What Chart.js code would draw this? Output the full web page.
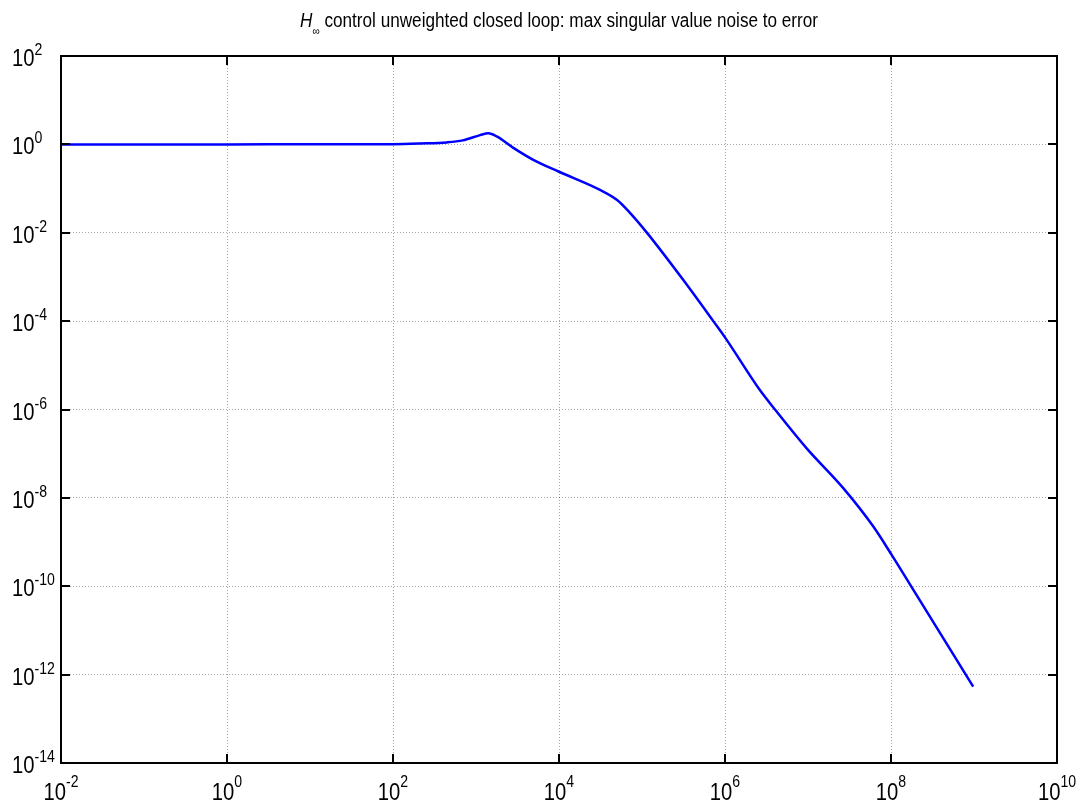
<!DOCTYPE html>
<html>
<head>
<meta charset="utf-8">
<title>H-infinity closed loop</title>
<script src="https://cdn.jsdelivr.net/npm/chart.js@4"></script>
<style>
  html, body { margin: 0; padding: 0; background: #fff; }
  canvas { display: block; }
</style>
</head>
<body>
<canvas id="chart" width="1086" height="808"></canvas>
<script>
// Frequency points
const frequency = [
    0.01, 1, 100, 214, 447, 692, 1122, 1413, 1778, 2818, 4898,
    1e4, 31189, 50119, 71614, 113763, 314775, 722770, 1018591,
    2630268, 3999447, 9638290, 26607250, 61235039, 101859139,
    177418948, 977237221
];

// Max singular value, noise -> error
const maxSingularValue = [
    1, 1, 1.012, 1.047, 1.109, 1.23, 1.62, 1.78, 1.51, 0.832, 0.447,
    0.24, 0.0933, 0.055, 0.0282, 0.0102, 8.5e-4, 1e-4, 4.07e-5,
    2.75e-6, 1e-6, 1.32e-7, 1.66e-8, 2.24e-9, 5.13e-10,
    9.55e-11, 5.37e-13
];

// Tick positions and their exponents
const xTickValues = [1e-2, 1e0, 1e2, 1e4, 1e6, 1e8, 1e10];
const xTickExponents = ['-2', '0', '2', '4', '6', '8', '10'];
const yTickValues = [1e2, 1e0, 1e-2, 1e-4, 1e-6, 1e-8, 1e-10, 1e-12, 1e-14];
const yTickExponents = ['2', '0', '-2', '-4', '-6', '-8', '-10', '-12', '-14'];

const titleMain = ' control unweighted closed loop: max singular value noise to error';

const FONT = '"Liberation Sans", Arial, sans-serif';
const SQUEEZE = 0.88;

// Draws "10" with a superscript exponent
function drawPower(ctx, exp, x, baseY, expY, align) {
    ctx.save();
    ctx.font = '23px ' + FONT;
    const wb = ctx.measureText('10').width * SQUEEZE;
    ctx.font = '16px ' + FONT;
    const we = ctx.measureText(exp).width * SQUEEZE;
    let start = x;
    if (align === 'center') start = x - (wb + we) / 2;
    ctx.fillStyle = '#000';
    ctx.textAlign = 'left';
    ctx.textBaseline = 'alphabetic';

    ctx.save();
    ctx.translate(start, baseY);
    ctx.scale(SQUEEZE, 1);
    ctx.font = '23px ' + FONT;
    ctx.fillText('10', 0, 0);
    ctx.restore();

    ctx.save();
    ctx.translate(start + wb, expY);
    ctx.scale(SQUEEZE, 1);
    ctx.font = '16px ' + FONT;
    ctx.fillText(exp, 0, 0);
    ctx.restore();
    ctx.restore();
}

const framePlugin = {
    id: 'frame',
    afterDraw(chart) {
        const ctx = chart.ctx;
        const area = chart.chartArea;
        const xs = chart.scales.x;
        const ys = chart.scales.y;

        ctx.save();
        // box
        ctx.strokeStyle = '#000';
        ctx.lineWidth = 2;
        ctx.strokeRect(area.left, area.top, area.right - area.left, area.bottom - area.top);

        // inward tick marks on all four sides
        const tickLen = 9;
        ctx.beginPath();
        xTickValues.forEach(v => {
            const px = Math.round(xs.getPixelForValue(v));
            ctx.moveTo(px, area.bottom);
            ctx.lineTo(px, area.bottom - tickLen);
            ctx.moveTo(px, area.top);
            ctx.lineTo(px, area.top + tickLen);
        });
        yTickValues.forEach(v => {
            const py = Math.round(ys.getPixelForValue(v));
            ctx.moveTo(area.left, py);
            ctx.lineTo(area.left + tickLen, py);
            ctx.moveTo(area.right, py);
            ctx.lineTo(area.right - tickLen, py);
        });
        ctx.stroke();

        // tick labels
        xTickValues.forEach((v, i) => {
            const px = xs.getPixelForValue(v);
            drawPower(ctx, xTickExponents[i], px, area.bottom + 37, area.bottom + 24, 'center');
        });
        yTickValues.forEach((v, i) => {
            const py = ys.getPixelForValue(v);
            drawPower(ctx, yTickExponents[i], 12, py + 10, py - 1, 'left');
        });

        // title: italic H, subscript infinity, then the rest
        const hFont = 'italic 20px ' + FONT;
        const subFont = '12px ' + FONT;
        const mainFont = '20px ' + FONT;
        ctx.font = hFont;
        const wH = ctx.measureText('H').width;
        ctx.font = subFont;
        const wInf = ctx.measureText('\u221E').width;
        ctx.font = mainFont;
        const wMain = ctx.measureText(titleMain).width;
        const targetWidth = 518;
        const sx = targetWidth / (wH + wInf + wMain);
        const cx = (area.left + area.right) / 2;
        ctx.translate(cx - targetWidth / 2, 27);
        ctx.scale(sx, 1);
        ctx.fillStyle = '#000';
        ctx.textAlign = 'left';
        ctx.textBaseline = 'alphabetic';
        ctx.font = hFont;
        ctx.fillText('H', 0, 0);
        ctx.font = subFont;
        ctx.fillText('\u221E', wH, 8);
        ctx.font = mainFont;
        ctx.fillText(titleMain, wH + wInf, 0);
        ctx.restore();
    }
};

const points = frequency.map((f, i) => ({ x: f, y: maxSingularValue[i] }));

const gridOpts = {
    color: 'rgba(0, 0, 0, 0.35)',
    lineWidth: 1,
    drawTicks: false
};

new Chart(document.getElementById('chart'), {
    type: 'line',
    data: {
        datasets: [{
            data: points,
            borderColor: '#0000ff',
            borderWidth: 2.5,
            pointRadius: 0,
            fill: false,
            cubicInterpolationMode: 'monotone'
        }]
    },
    options: {
        responsive: false,
        animation: false,
        events: [],
        layout: {
            padding: { left: 61, right: 29, top: 56, bottom: 45 }
        },
        plugins: {
            legend: { display: false },
            tooltip: { enabled: false },
            title: { display: false }
        },
        scales: {
            x: {
                type: 'logarithmic',
                min: 1e-2,
                max: 1e10,
                afterBuildTicks: scale => {
                    scale.ticks = xTickValues.map(v => ({ value: v }));
                },
                ticks: { display: false },
                grid: gridOpts,
                border: { display: false, dash: [1, 2] }
            },
            y: {
                type: 'logarithmic',
                min: 1e-14,
                max: 1e2,
                afterBuildTicks: scale => {
                    scale.ticks = yTickValues.map(v => ({ value: v }));
                },
                ticks: { display: false },
                grid: gridOpts,
                border: { display: false, dash: [1, 2] }
            }
        }
    },
    plugins: [framePlugin]
});
</script>
</body>
</html>
